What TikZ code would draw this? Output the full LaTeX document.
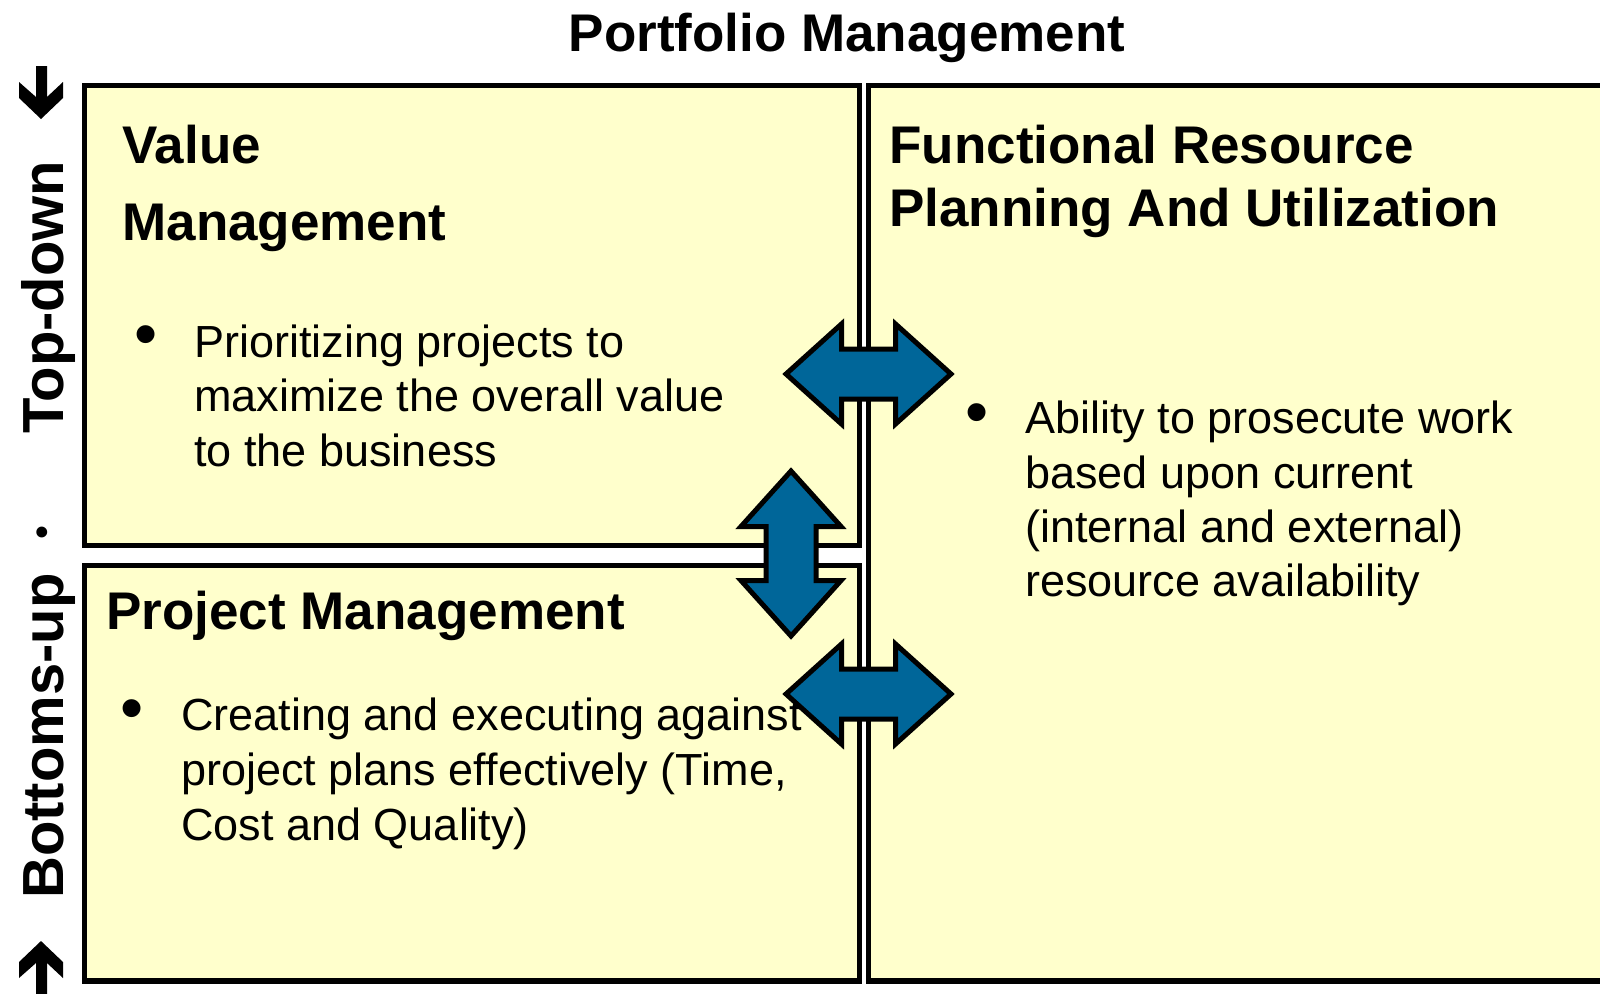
\documentclass[tikz,border=0pt]{standalone}
\usepackage{fontspec}
\setmainfont{Liberation Sans}
\definecolor{boxfill}{HTML}{FFFFCC}
\definecolor{arrowblue}{HTML}{006699}
\tikzset{
  panel/.style={draw=black, line width=2.75pt, fill=boxfill},
  heading/.style={font=\fontsize{26.5}{31.8}\selectfont\bfseries, anchor=base west, inner sep=0pt},
  body/.style={font=\fontsize{22.5}{27}\selectfont, anchor=base west, inner sep=0pt},
  bulletmark/.style={font=\fontsize{33}{36}\selectfont, anchor=base, inner sep=0pt},
  sidelabel/.style={font=\fontsize{29}{34}\selectfont\bfseries, rotate=90, anchor=base, inner sep=0pt},
  sidedot/.style={font=\fontsize{20}{24}\selectfont, rotate=90, anchor=base, inner sep=0pt},
  blockarrow/.style={draw=black, line width=2.5pt, fill=arrowblue, line join=miter},
  sidearrow/.style={fill=black, draw=none},
  dblarrow/.pic={
    \draw[blockarrow] (-82.5,0) -- (-27,-50) -- (-27,-25) -- (27,-25) -- (27,-50)
      -- (82.5,0) -- (27,50) -- (27,25) -- (-27,25) -- (-27,50) -- cycle;
  }
}
\begin{document}
\begin{tikzpicture}[x=0.5pt,y=-0.5pt]
\useasboundingbox[fill=white] (0,0) rectangle (1600,993);

% panels
\draw[panel] (84.5,85.5) rectangle (859.5,545.5);
\draw[panel] (84.5,565.5) rectangle (859.5,981);
\draw[panel] (868.5,85.5) rectangle (1615,981);

% block arrows
\pic at (868.5,374) {dblarrow};
\pic[rotate=90] at (791,553.5) {dblarrow};
\pic at (868.5,694) {dblarrow};

% title
\node[heading, anchor=base] (title) at (847,51) {Portfolio Management};

% value management
\node[heading] (vmhead1) at (122,163) {Value};
\node[heading] (vmhead2) at (122,240) {Management};
\node[bulletmark] (vmbul) at (146,356) {•};
\node[body] (vmtext1) at (194,357) {Prioritizing projects to};
\node[body] (vmtext2) at (194,411) {maximize the overall value};
\node[body] (vmtext3) at (194,466) {to the business};

% project management
\node[heading] (pmhead) at (106,629) {Project Management};
\node[bulletmark] (pmbul) at (132,730) {•};
\node[body] (pmtext1) at (181,730) {Creating and executing against};
\node[body] (pmtext2) at (181,785) {project plans effectively (Time,};
\node[body] (pmtext3) at (181,840) {Cost and Quality)};

% functional resource planning
\node[heading] (frhead1) at (889,163) {Functional Resource};
\node[heading] (frhead2) at (889,226) {Planning And Utilization};
\node[bulletmark] (frbul) at (977,434) {•};
\node[body] (frtext1) at (1025,433) {Ability to prosecute work};
\node[body] (frtext2) at (1025,488) {based upon current};
\node[body] (frtext3) at (1025,542) {(internal and external)};
\node[body] (frtext4) at (1025,596) {resource availability};

% side labels
\node[sidelabel] (topdown) at (63,297) {Top-down};
\node[sidedot] (sepdot) at (55,532) {•};
\node[sidelabel] (bottomsup) at (63,736) {Bottoms-up};

% side arrows
\fill[sidearrow] (36,66) -- (47,66) -- (47,97) -- (63,82) -- (63,98) -- (41,119)
  -- (19,98) -- (19,82) -- (36,97) -- cycle;
\fill[sidearrow] (36,1000) -- (47,1000) -- (47,963) -- (63,978) -- (63,962) -- (41,941)
  -- (19,962) -- (19,978) -- (36,963) -- cycle;
\end{tikzpicture}
\end{document}
